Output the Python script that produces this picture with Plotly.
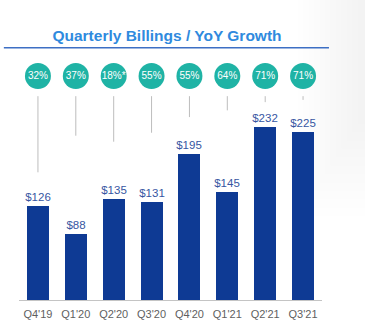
import plotly.graph_objects as go

# Quarterly billings ($M) and year-over-year growth
quarters = ["Q4'19", "Q1'20", "Q2'20", "Q3'20", "Q4'20", "Q1'21", "Q2'21", "Q3'21"]
billings = [126, 88, 135, 131, 195, 145, 232, 225]
yoy_growth = ["32%", "37%", "18%*", "55%", "55%", "64%", "71%", "71%"]
value_labels = ["$" + str(v) for v in billings]

# where each thin leader line below a growth bubble stops (data units)
leader_end = [171, 220, 212, 224, 245, 254, 265, 268]

BAR_BLUE = "#0e3a94"
TEAL = "#1fb3a5"
LABEL_BLUE = "#3656a2"
TITLE_BLUE = "#2f8ade"
FONT = "Liberation Sans, Arial, sans-serif"

idx = list(range(len(quarters)))
bubble_y = 300
leader_start = 273

fig = go.Figure()

# leader lines from bubbles down toward the bars
for i, end in zip(idx, leader_end):
    fig.add_shape(type="line", xref="x", yref="y", x0=i, x1=i,
                  y0=leader_start, y1=end,
                  line=dict(color="#bdbdbd", width=1), layer="below")

fig.add_trace(go.Bar(
    x=idx, y=billings, width=0.58,
    marker=dict(color=BAR_BLUE, line=dict(width=0)),
    text=value_labels, textposition="outside", cliponaxis=False,
    constraintext="none",
    textfont=dict(color=LABEL_BLUE, size=11.5, family=FONT),
    hoverinfo="skip",
))

fig.add_trace(go.Scatter(
    x=idx, y=[bubble_y] * len(idx), mode="markers+text",
    marker=dict(size=26, color=TEAL, line=dict(width=0)),
    text=yoy_growth, textposition="middle center",
    textfont=dict(color="white", size=10, family=FONT),
    cliponaxis=False, hoverinfo="skip",
))

# title rule
fig.add_shape(type="line", xref="paper", yref="paper",
              x0=-0.05, x1=1.023, y0=0.901, y1=0.901,
              line=dict(color="#3d6fc4", width=1.5))

# faint grey haze fading in toward the right edge
for k in range(12):
    fig.add_shape(type="rect", xref="paper", yref="paper",
                  x0=0.92 + 0.018 * k, x1=1.15, y0=0.3 + 0.03 * k, y1=1.08,
                  fillcolor="rgba(120,120,120,0.006)", line=dict(width=0),
                  layer="below")

fig.update_layout(
    width=365, height=336,
    margin=dict(l=19, r=43, t=20, b=36),
    paper_bgcolor="white", plot_bgcolor="rgba(0,0,0,0)",
    showlegend=False,
    title=dict(text="<b>Quarterly Billings / YoY Growth</b>",
               x=167 / 365, xanchor="center", y=1 - 36 / 336, yanchor="middle",
               font=dict(color=TITLE_BLUE, size=15.5, family=FONT)),
    xaxis=dict(range=[-0.5, 7.5], tickmode="array", tickvals=idx, ticktext=quarters,
               showgrid=False, zeroline=False, showline=True,
               linecolor="#c4c4c4", linewidth=1, ticks="", ticklabelstandoff=4,
               tickfont=dict(color="#5f5f5f", size=11, family=FONT)),
    yaxis=dict(range=[0, 375], visible=False, showgrid=False, zeroline=False),
    bargap=0,
)

fig.write_html("out.html")
